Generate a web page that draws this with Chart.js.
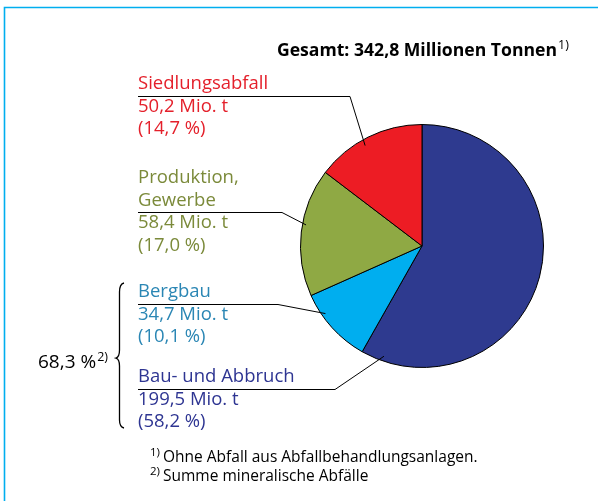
<!DOCTYPE html>
<html>
<head>
<meta charset="utf-8">
<script src="https://cdn.jsdelivr.net/npm/chart.js@4/dist/chart.umd.min.js"></script>
<style>
  html, body { margin: 0; padding: 0; background: #fff; }
  #wrap { width: 598px; height: 501px; }
</style>
</head>
<body>
<div id="wrap"><canvas id="chart" width="598" height="501"></canvas></div>
<script>
// Abfallaufkommen nach Herkunft
const categories = ['Bau- und Abbruch', 'Bergbau', 'Produktion, Gewerbe', 'Siedlungsabfall'];
const tonnes = [199.5, 34.7, 58.4, 50.2];          // Mio. t
const tonnesLabels = ['199,5 Mio. t', '34,7 Mio. t', '58,4 Mio. t', '50,2 Mio. t'];
const shareLabels = ['(58,2 %)', '(10,1 %)', '(17,0 %)', '(14,7 %)'];
const titleText = 'Gesamt: 342,8 Millionen Tonnen';
const mineralShare = '68,3 %';
const footnotes = ['Ohne Abfall aus Abfallbehandlungsanlagen.', 'Summe mineralische Abfälle'];

const sliceColors = ['#2e3a8f', '#00aeef', '#8fa944', '#ed1c24'];
const textColors = ['#2e3592', '#2a86b4', '#7b8a3a', '#e4202b'];

const FONT = '"Open Sans", "Noto Sans", sans-serif';

// label blocks: name lines, first baseline, elbow x, anchor position on slice
const labelBlocks = [
  { idx: 3, name: ['Siedlungsabfall'], y: 89, elbow: 350, t: 0.44, r: 0.95 },
  { idx: 2, name: ['Produktion,', 'Gewerbe'], y: 183, elbow: 282, t: 0.56, r: 0.97 },
  { idx: 1, name: ['Bergbau'], y: 297, elbow: 278, t: 0.70, r: 0.97 },
  { idx: 0, name: ['Bau- und Abbruch'], y: 382, elbow: 335, t: 0.95, r: 0.96 }
];

const LABEL_X = 138;
const LINE_H = 22.7;

const overlay = {
  id: 'overlay',
  beforeDraw(chart) {
    const ctx = chart.ctx;
    ctx.save();
    // frame
    ctx.strokeStyle = '#00aeef';
    ctx.lineWidth = 1.6;
    ctx.beginPath();
    ctx.moveTo(4.5, 501);
    ctx.lineTo(4.5, 7.5);
    ctx.lineTo(598, 7.5);
    ctx.stroke();
    ctx.restore();
  },
  afterDraw(chart) {
    const ctx = chart.ctx;
    const arcs = chart.getDatasetMeta(0).data;
    ctx.save();

    // title
    ctx.fillStyle = '#000';
    ctx.textBaseline = 'alphabetic';
    ctx.font = 'bold 17.6px ' + FONT;
    ctx.textAlign = 'right';
    ctx.fillText(titleText, 557, 56);
    ctx.textAlign = 'left';
    ctx.font = '12.5px ' + FONT;
    ctx.fillText('1)', 558, 49);

    // labels + leader lines
    labelBlocks.forEach(b => {
      const arc = arcs[b.idx];
      const p = arc.getProps(['x', 'y', 'startAngle', 'endAngle', 'outerRadius'], true);
      const a = p.startAngle + (p.endAngle - p.startAngle) * b.t;
      const ax = p.x + Math.cos(a) * p.outerRadius * b.r;
      const ay = p.y + Math.sin(a) * p.outerRadius * b.r;

      ctx.fillStyle = textColors[b.idx];
      ctx.font = '18.5px ' + FONT;
      let y = b.y;
      b.name.forEach((line, i) => {
        ctx.fillText(line, LABEL_X, y);
        if (i < b.name.length - 1) y += LINE_H;
      });
      const lineY = Math.round(y + 6.5) + 0.5;
      ctx.fillText(tonnesLabels[b.idx], LABEL_X, y + LINE_H);
      ctx.fillText(shareLabels[b.idx], LABEL_X, y + LINE_H * 2);

      ctx.strokeStyle = '#000';
      ctx.lineWidth = 1;
      ctx.beginPath();
      ctx.moveTo(LABEL_X, lineY);
      ctx.lineTo(b.elbow, lineY);
      ctx.lineTo(ax, ay);
      ctx.stroke();
    });

    // brace for mineral waste
    ctx.strokeStyle = '#000';
    ctx.lineWidth = 1.3;
    ctx.beginPath();
    ctx.moveTo(124, 283);
    ctx.quadraticCurveTo(119.5, 284, 119.5, 292);
    ctx.lineTo(119.5, 350);
    ctx.quadraticCurveTo(119.5, 357, 116, 358);
    ctx.quadraticCurveTo(119.5, 359, 119.5, 366);
    ctx.lineTo(119.5, 420);
    ctx.quadraticCurveTo(119.5, 427, 124, 428);
    ctx.stroke();

    ctx.fillStyle = '#000';
    ctx.font = '19px ' + FONT;
    ctx.fillText(mineralShare, 38, 368);
    const w = ctx.measureText(mineralShare).width;
    ctx.font = '12.5px ' + FONT;
    ctx.fillText('2)', 38 + w + 1, 361);

    // footnotes
    ctx.font = '11.5px ' + FONT;
    ctx.fillText('1)', 150, 456);
    ctx.fillText('2)', 150, 475);
    ctx.font = '15.5px ' + FONT;
    ctx.fillText(footnotes[0], 163, 462);
    ctx.fillText(footnotes[1], 163, 481);

    ctx.restore();
  }
};

new Chart(document.getElementById('chart'), {
  type: 'pie',
  data: {
    labels: categories,
    datasets: [{
      data: tonnes,
      backgroundColor: sliceColors,
      borderColor: '#000',
      borderWidth: 1,
      hoverOffset: 0
    }]
  },
  options: {
    responsive: false,
    animation: false,
    layout: { padding: { left: 300, right: 54, top: 124, bottom: 133 } },
    plugins: {
      legend: { display: false },
      tooltip: { enabled: false }
    }
  },
  plugins: [overlay]
});
</script>
</body>
</html>
